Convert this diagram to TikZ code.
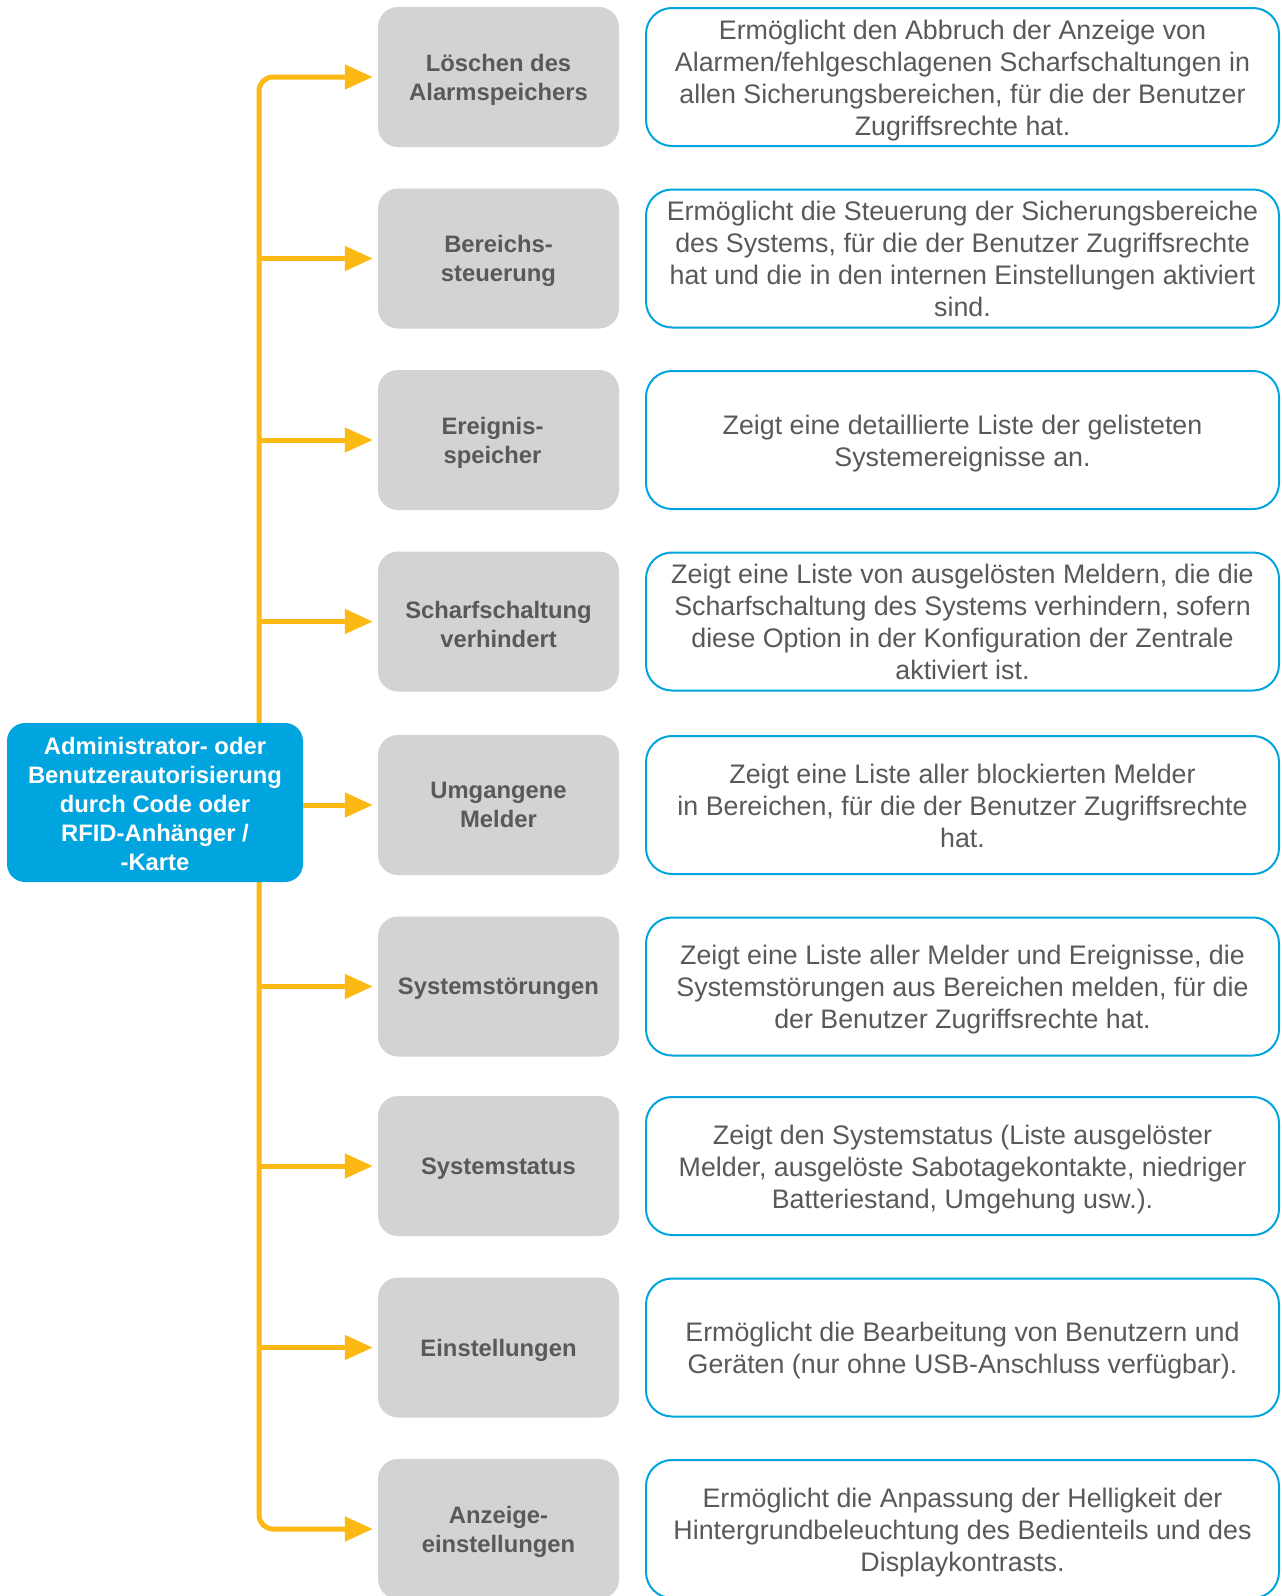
\documentclass[tikz,border=0pt]{standalone}
\usepackage{fontspec}
\setmainfont{Liberation Sans}
\usetikzlibrary{arrows.meta,backgrounds}
\definecolor{orng}{HTML}{FDB913}
\definecolor{gbox}{HTML}{D1D3D4}
\definecolor{gtext}{HTML}{58595B}
\definecolor{bl}{HTML}{00A4DF}
\begin{document}
\begin{tikzpicture}[x=1pt,y=-1pt,
 item/.style={fill=gbox, rounded corners=20pt, minimum width=241pt, minimum height=140pt, inner sep=0pt},
 itemtext/.style={text=gtext, font=\fontsize{23.8}{29}\selectfont\bfseries, align=center, inner sep=0pt, yshift=-2.5pt},
 desc/.style={draw=bl, line width=2pt, fill=white, rounded corners=26pt, minimum width=633pt, minimum height=138pt, inner sep=0pt},
 desctext/.style={text=gtext, font=\fontsize{26.8}{32}\selectfont, align=center, inner sep=0pt, yshift=-5.5pt,
   execute at begin node=\strut, execute at end node=\strut},
 root/.style={fill=bl, rounded corners=18pt, minimum width=296pt, minimum height=159pt, inner sep=0pt},
 roottext/.style={text=white, font=\fontsize{23.8}{29}\selectfont\bfseries, align=center, inner sep=0pt, yshift=-1pt},
 conn/.style={draw=orng, line width=5pt, -{Triangle[length=28pt,width=24pt]}, shorten >=5pt}
]
\useasboundingbox (0,0) rectangle (1282,1596);

\foreach \i/\yy in {1/77,2/258.5,3/440,4/621.5,5/805,6/986.5,7/1166,8/1347.5,9/1529} {
  \node[item] (g\i) at (498.5,\yy) {};
  \node[desc] (d\i) at (962.5,\yy) {};
}

\node[itemtext] (g1t) at (g1) {Löschen des\\Alarmspeichers};
\node[itemtext] (g2t) at (g2) {Bereichs-\\steuerung};
\node[itemtext, xshift=-6pt] (g3t) at (g3) {Ereignis-\\speicher};
\node[itemtext] (g4t) at (g4) {Scharfschaltung\\verhindert};
\node[itemtext, yshift=2.5pt] (g5t) at (g5) {Umgangene\\Melder};
\node[itemtext] (g6t) at (g6) {Systemstörungen};
\node[itemtext] (g7t) at (g7) {Systemstatus};
\node[itemtext] (g8t) at (g8) {Einstellungen};
\node[itemtext] (g9t) at (g9) {Anzeige-\\einstellungen};

\node[desctext] (d1t) at (d1) {Ermöglicht den Abbruch der Anzeige von\\Alarmen/fehlgeschlagenen Scharfschaltungen in\\allen Sicherungsbereichen, für die der Benutzer\\Zugriffsrechte hat.};
\node[desctext] (d2t) at (d2) {Ermöglicht die Steuerung der Sicherungsbereiche\\des Systems, für die der Benutzer Zugriffsrechte\\hat und die in den internen Einstellungen aktiviert\\sind.};
\node[desctext] (d3t) at (d3) {Zeigt eine detaillierte Liste der gelisteten\\Systemereignisse an.};
\node[desctext] (d4t) at (d4) {Zeigt eine Liste von ausgelösten Meldern, die die\\Scharfschaltung des Systems verhindern, sofern\\diese Option in der Konfiguration der Zentrale\\aktiviert ist.};
\node[desctext] (d5t) at (d5) {Zeigt eine Liste aller blockierten Melder\\in Bereichen, für die der Benutzer Zugriffsrechte\\hat.};
\node[desctext] (d6t) at (d6) {Zeigt eine Liste aller Melder und Ereignisse, die\\Systemstörungen aus Bereichen melden, für die\\der Benutzer Zugriffsrechte hat.};
\node[desctext] (d7t) at (d7) {Zeigt den Systemstatus (Liste ausgelöster\\Melder, ausgelöste Sabotagekontakte, niedriger\\Batteriestand, Umgehung usw.).};
\node[desctext] (d8t) at (d8) {Ermöglicht die Bearbeitung von Benutzern und\\Geräten (nur ohne USB-Anschluss verfügbar).};
\node[desctext] (d9t) at (d9) {Ermöglicht die Anpassung der Helligkeit der\\Hintergrundbeleuchtung des Bedienteils und des\\Displaykontrasts.};

\node[root] (r) at (155,802.5) {};
\node[roottext] (rt) at (r) {Administrator- oder\\Benutzerautorisierung\\durch Code oder\\RFID-Anhänger /\\-Karte};
\coordinate (t) at (259,805);

\begin{scope}[on background layer]
  \draw[conn, rounded corners=14pt] (t) |- (g1.west);
  \draw[conn, rounded corners=14pt] (t) |- (g9.west);
  \foreach \i in {2,3,4,6,7,8} {
    \draw[conn] (t |- g\i.west) -- (g\i.west);
  }
\end{scope}
\draw[conn] (r.east |- g5.west) -- (g5.west);
\end{tikzpicture}
\end{document}
